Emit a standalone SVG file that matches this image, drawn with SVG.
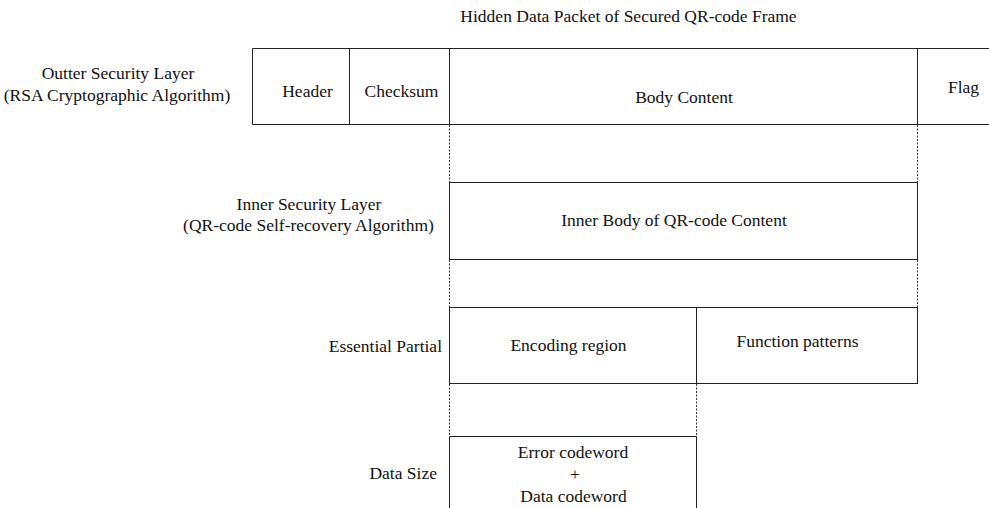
<svg xmlns="http://www.w3.org/2000/svg" width="989" height="508" viewBox="0 0 989 508">
<style>
text{font-family:"Liberation Serif","Times New Roman",serif;font-size:17.5px;fill:#111}
.m{text-anchor:middle}
.e{text-anchor:end}
.ln{stroke:#222;stroke-width:1;fill:none}
.ds{stroke:#333;stroke-width:1;fill:none;stroke-dasharray:2 1.5}
</style>
<rect width="989" height="508" fill="#fff"/>
<text class="m" x="628.5" y="22">Hidden Data Packet of Secured QR-code Frame</text>
<g id="outer-layer">
<text class="m" x="118" y="79">Outter Security Layer</text>
<text class="m" x="117" y="101">(RSA Cryptographic Algorithm)</text>
</g>
<g id="outer-frame">
<path class="ln" d="M252.5 48.5H989M252.5 124.5H989M252.5 48.5V124.5M349.5 48.5V124.5M449.5 48.5V124.5M917.5 48.5V124.5"/>
</g>
<g id="header"><text class="m" x="307.5" y="97">Header</text></g>
<g id="checksum"><text class="m" x="401.5" y="97">Checksum</text></g>
<g id="body-content"><text class="m" x="684" y="103">Body Content</text></g>
<g id="flag"><text class="m" x="963.5" y="93">Flag</text></g>
<g id="inner-layer">
<text class="m" x="309" y="210">Inner Security Layer</text>
<text class="m" x="308.5" y="231">(QR-code Self-recovery Algorithm)</text>
</g>
<g id="inner-body">
<rect class="ln" x="449.5" y="182.5" width="468" height="77"/>
<text class="m" x="674" y="226">Inner Body of QR-code Content</text>
</g>
<g id="essential-label"><text class="e" x="442" y="352">Essential Partial</text></g>
<g id="encoding-region">
<rect class="ln" x="449.5" y="307.5" width="247" height="76"/>
<text class="m" x="568.5" y="351">Encoding region</text>
</g>
<g id="function-patterns">
<rect class="ln" x="696.5" y="307.5" width="221" height="76"/>
<text class="m" x="797.5" y="346.5">Function patterns</text>
</g>
<g id="data-size-label"><text class="e" x="437" y="479">Data Size</text></g>
<g id="data-codewords">
<path class="ln" d="M449.5 508V436.5H696.5V508"/>
<text class="m" x="573" y="457.5">Error codeword</text>
<text class="m" x="575" y="480">+</text>
<text class="m" x="573.5" y="501.5">Data codeword</text>
</g>
<g id="connectors">
<path class="ds" d="M449.5 125V182M917.5 125V182M449.5 260V307M917.5 260V307M449.5 384V436M696.5 384V436"/>
</g>
</svg>
